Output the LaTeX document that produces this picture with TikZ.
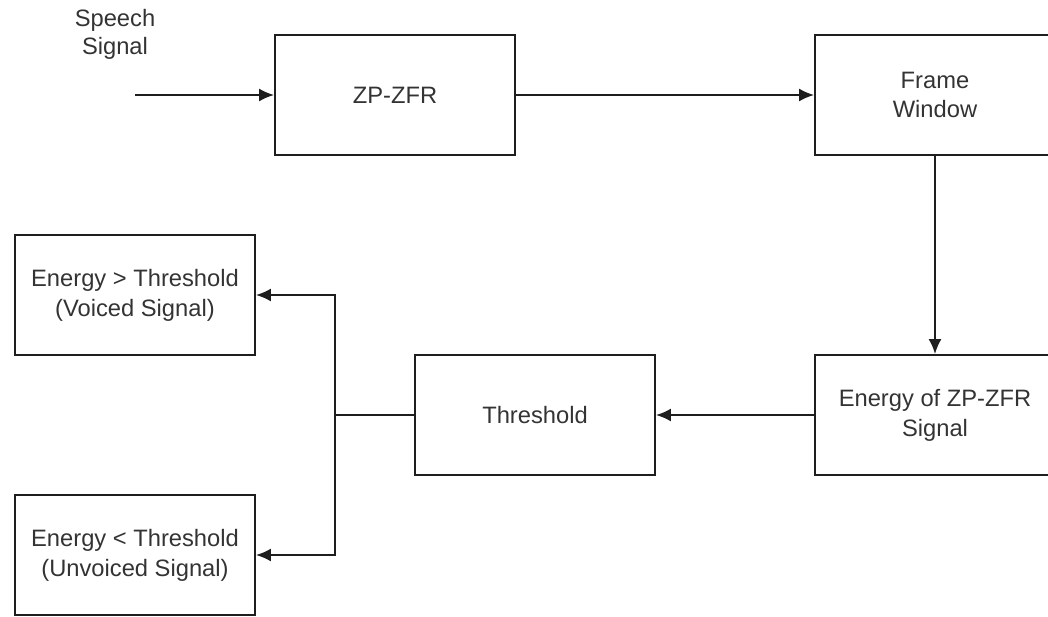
\documentclass[tikz,border=0pt]{standalone}
\usepackage{fontspec}
\setmainfont{Liberation Sans}
\usetikzlibrary{arrows.meta}
\definecolor{linegray}{HTML}{1E1E1E}
\definecolor{textgray}{HTML}{333333}
\tikzset{
  block/.style={draw=linegray, line width=1.1pt, minimum width=4.8cm, minimum height=2.4cm,
    align=center, text=textgray, font=\fontsize{13.5}{17}\selectfont},
  link/.style={draw=linegray, line width=1.1pt},
}
\begin{document}
\begin{tikzpicture}[x=0.02cm, y=-0.02cm, >={Latex[length=0.3cm,width=0.26cm]}]
\useasboundingbox (0,0) rectangle (1048,616);
\coordinate (In)  at (135,95);
\coordinate (J)   at (335,415);
\coordinate (JU)  at (335,295);
\coordinate (JD)  at (335,555);
\node[text=textgray, align=center, font=\fontsize{13.5}{16}\selectfont] (speech) at (115,34) {Speech\\Signal};
\node[block] (zfr)    at (395,95)  {ZP-ZFR};
\node[block] (frame)  at (935,95)  {Frame\\Window};
\node[block] (energy) at (935,415) {Energy of ZP-ZFR\\Signal};
\node[block] (thr)    at (535,415) {Threshold};
\node[block] (voiced) at (135,295) {Energy > Threshold\\(Voiced Signal)};
\node[block] (unvoic) at (135,555) {Energy < Threshold\\(Unvoiced Signal)};
\draw[link, ->] (In) -- (zfr);
\draw[link, ->] (zfr) -- (frame);
\draw[link, ->] (frame) -- (energy);
\draw[link, ->] (energy) -- (thr);
\draw[link] (thr) -- (J);
\draw[link, ->] (J) -- (JU) -- (voiced.east |- JU);
\draw[link, ->] (J) -- (JD) -- (unvoic.east |- JD);
\end{tikzpicture}
\end{document}
